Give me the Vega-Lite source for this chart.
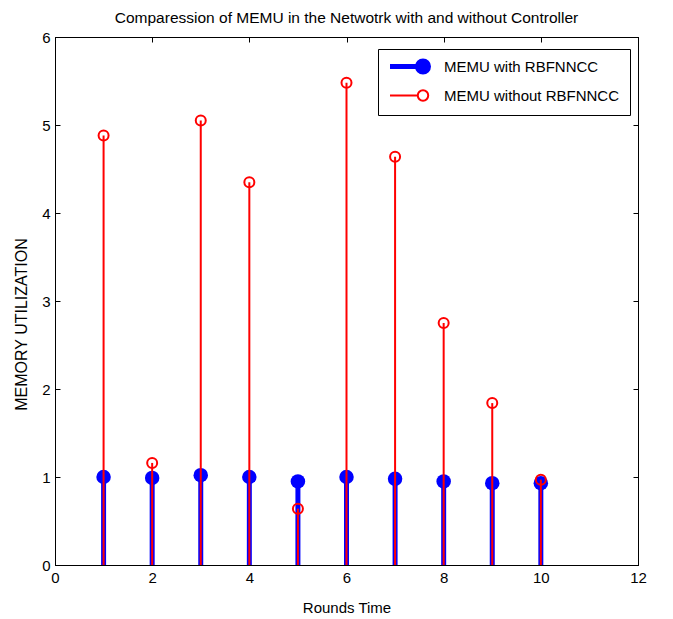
{
  "$schema": "https://vega.github.io/schema/vega-lite/v6.json",
  "width": 583,
  "height": 528,
  "autosize": {"type": "none"},
  "padding": {"left": 55, "top": 37, "right": 35, "bottom": 54},
  "background": "white",
  "title": {"text": "Comparession of MEMU in the Netwotrk with and without Controller", "font": "Liberation Sans", "fontSize": 15.5, "fontWeight": "normal", "color": "black", "offset": 4},
  "config": {
    "view": {"stroke": "black", "strokeWidth": 1},
    "axis": {"labelFont": "Liberation Sans", "labelFontSize": 15, "labelColor": "black", "titleFont": "Liberation Sans", "titleFontSize": 15, "titleFontWeight": "normal", "titleColor": "black", "domainColor": "black", "tickColor": "black", "grid": false, "tickSize": -5, "labelPadding": 10, "labelFlush": false}
  },
  "data": {"values": [
    {"x": 1, "series": "MEMU with RBFNNCC", "y": 1.0},
    {"x": 2, "series": "MEMU with RBFNNCC", "y": 0.99},
    {"x": 3, "series": "MEMU with RBFNNCC", "y": 1.02},
    {"x": 4, "series": "MEMU with RBFNNCC", "y": 1.0},
    {"x": 5, "series": "MEMU with RBFNNCC", "y": 0.95},
    {"x": 6, "series": "MEMU with RBFNNCC", "y": 1.0},
    {"x": 7, "series": "MEMU with RBFNNCC", "y": 0.98},
    {"x": 8, "series": "MEMU with RBFNNCC", "y": 0.95},
    {"x": 9, "series": "MEMU with RBFNNCC", "y": 0.93},
    {"x": 10, "series": "MEMU with RBFNNCC", "y": 0.93},
    {"x": 1, "series": "MEMU without RBFNNCC", "y": 4.88},
    {"x": 2, "series": "MEMU without RBFNNCC", "y": 1.16},
    {"x": 3, "series": "MEMU without RBFNNCC", "y": 5.05},
    {"x": 4, "series": "MEMU without RBFNNCC", "y": 4.35},
    {"x": 5, "series": "MEMU without RBFNNCC", "y": 0.64},
    {"x": 6, "series": "MEMU without RBFNNCC", "y": 5.48},
    {"x": 7, "series": "MEMU without RBFNNCC", "y": 4.64},
    {"x": 8, "series": "MEMU without RBFNNCC", "y": 2.75},
    {"x": 9, "series": "MEMU without RBFNNCC", "y": 1.84},
    {"x": 10, "series": "MEMU without RBFNNCC", "y": 0.97}
  ]},
  "encoding": {
    "x": {"field": "x", "type": "quantitative", "scale": {"domain": [0, 12], "nice": false, "zero": false}, "axis": null},
    "y": {"field": "y", "type": "quantitative", "scale": {"domain": [0, 6], "nice": false}, "axis": null},
    "color": {"field": "series", "type": "nominal", "scale": {"domain": ["MEMU with RBFNNCC", "MEMU without RBFNNCC"], "range": ["#0000ff", "#ff0000"]},
      "legend": {"title": null, "orient": "none", "legendX": 323, "legendY": 12, "padding": 10, "strokeColor": "black", "fillColor": "white", "labelFont": "Liberation Sans", "labelFontSize": 15, "labelColor": "black", "labelLimit": 400, "rowPadding": 4, "symbolSize": 121, "symbolOffset": 27.5, "labelOffset": 13.5,
        "encode": {"symbols": {"update": {
          "shape": {"signal": "datum.value === 'MEMU with RBFNNCC' ? 'M-6,0H0M-1,0A1,1 0 1,1 1,0A1,1 0 1,1 -1,0Z' : 'M-6,0H-0.95M-0.95,0A0.95,0.95 0 1,1 0.95,0A0.95,0.95 0 1,1 -0.95,0Z'"},
          "fill": {"signal": "datum.value === 'MEMU with RBFNNCC' ? '#0000ff' : 'transparent'"},
          "fillOpacity": {"signal": "datum.value === 'MEMU with RBFNNCC' ? 1 : 0"},
          "stroke": {"signal": "datum.value === 'MEMU with RBFNNCC' ? '#0000ff' : '#ff0000'"},
          "strokeWidth": {"signal": "datum.value === 'MEMU with RBFNNCC' ? 5 : 2"},
          "opacity": {"value": 1}
        }}}}
    }
  },
  "layer": [
    {
      "transform": [{"filter": "datum.series === 'MEMU with RBFNNCC'"}],
      "mark": {"type": "rule", "strokeWidth": 5},
      "encoding": {
        "y": {"datum": 0, "type": "quantitative", "axis": {"title": "MEMORY UTILIZATION", "titleFontSize": 16, "values": [0, 1, 2, 3, 4, 5, 6], "titleY": 287, "titleX": -26}},
        "y2": {"field": "y"},
        "x": {"field": "x", "type": "quantitative", "axis": {"title": "Rounds Time", "values": [0, 2, 4, 6, 8, 10, 12], "titlePadding": 15}}
      }
    },
    {
      "transform": [{"filter": "datum.series === 'MEMU with RBFNNCC'"}],
      "mark": {"type": "point", "filled": true, "size": 210, "opacity": 1, "shape": "circle"}
    },
    {
      "transform": [{"filter": "datum.series === 'MEMU without RBFNNCC'"}],
      "mark": {"type": "rule", "strokeWidth": 2},
      "encoding": {
        "y": {"datum": 0, "type": "quantitative", "axis": null},
        "y2": {"field": "y"}
      }
    },
    {
      "transform": [{"filter": "datum.series === 'MEMU without RBFNNCC'"}],
      "mark": {"type": "point", "filled": false, "size": 100, "strokeWidth": 2, "opacity": 1, "shape": "circle"},
      "encoding": {
        "x": {"field": "x", "type": "quantitative", "axis": {"orient": "top", "title": null, "labels": false, "values": [0, 2, 4, 6, 8, 10, 12]}},
        "y": {"field": "y", "type": "quantitative", "axis": {"orient": "right", "title": null, "labels": false, "values": [0, 1, 2, 3, 4, 5, 6]}}
      }
    }
  ],
  "resolve": {"axis": {"x": "independent", "y": "independent"}}
}
